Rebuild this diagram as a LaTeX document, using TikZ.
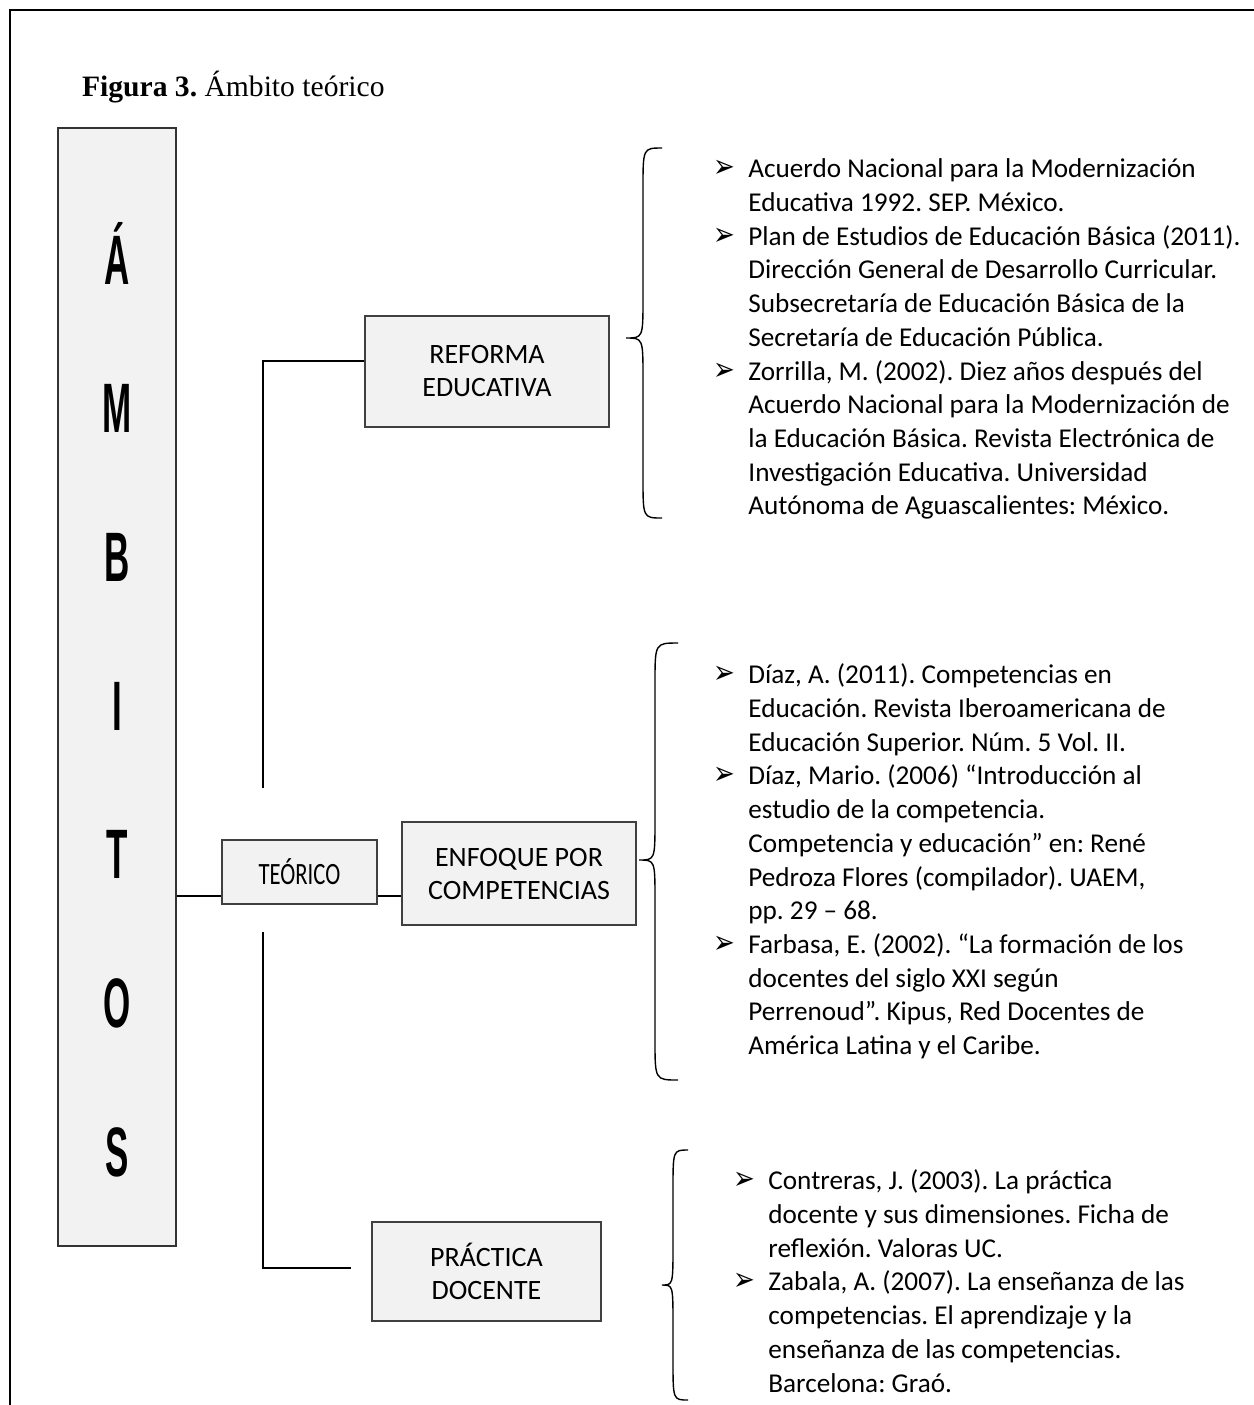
\documentclass[tikz,border=0pt]{standalone}
\usepackage{fontspec}
\usepackage{graphicx}
\setmainfont{Carlito}
\newfontfamily\titlefont{Liberation Serif}
\newfontfamily\tallfont{Liberation Sans}[FakeStretch=0.5]
\newfontfamily\narrowfont{Carlito}[FakeStretch=0.73]
\newfontfamily\dingfont{DejaVu Sans}
\definecolor{boxgray}{HTML}{F2F2F2}
\definecolor{edgegray}{HTML}{404040}
\newcommand{\refmark}{\llap{{\dingfont\fontsize{13}{13}\selectfont\scalebox{1}[1.25]{➢}}\hspace{6.5pt}}}
\frenchspacing

\begin{document}
\begin{tikzpicture}[x=0.5pt, y=-0.5pt,
    topic/.style={draw=edgegray, line width=0.75pt, fill=boxgray, align=center,
        inner sep=0pt, font=\fontsize{14}{16.5}\selectfont},
    link/.style={line width=1pt},
    letter/.style={font=\tallfont\bfseries\fontsize{35}{35}\selectfont, anchor=base},
    refs/.style={anchor=north west, align=left, inner sep=0pt,
        font=\fontsize{13.6}{16.85}\selectfont},
    curly/.style={line width=0.7pt}]

    \useasboundingbox (0,0) rectangle (1254,1405);
    \draw[line width=1.2pt] (10,1405) -- (10,10) -- (1254,10);

    \node[anchor=base west, font=\titlefont\fontsize{14.8}{17}\selectfont] (title) at (75,96)
        {\textbf{Figura 3.} Ámbito teórico};

    % left column
    \node[draw=black!80, line width=1pt, fill=boxgray, minimum width=59pt,
        minimum height=559pt, inner sep=0pt] (ambitos) at (117,687) {};
    \foreach \l [count=\i] in {Á,M,B,I,T,O,S}
        \node[letter] (amb-\i) at (117,{284+148.7*(\i-1)}) {\l};

    % topics
    \node[topic, minimum width=77.5pt, minimum height=32pt,
        font=\narrowfont\fontsize{15.5}{16}\selectfont] (teorico) at (299.5,872) {TEÓRICO};
    \node[topic, minimum width=122pt, minimum height=55.5pt] (reforma) at (487,371.5) {REFORMA\\EDUCATIVA};
    \node[topic, minimum width=117pt, minimum height=51.5pt] (enfoque) at (519,873.5) {ENFOQUE POR\\COMPETENCIAS};
    \node[topic, minimum width=114.5pt, minimum height=49.5pt] (practica) at (486.5,1271.5) {PRÁCTICA\\DOCENTE};

    % connectors
    \coordinate (tlink) at ([yshift=4.5pt]teorico.south west);
    \coordinate (rlink) at ([yshift=5.25pt]reforma.west);
    \coordinate (pend) at ([xshift=-10pt, yshift=1.75pt]practica.west);
    \coordinate (trunk-top) at (263,788);
    \coordinate (trunk-low) at (263,932);
    \draw[link] (tlink -| ambitos.east) -- (tlink);
    \draw[link] (tlink -| teorico.east) -- (tlink -| enfoque.west);
    \draw[link] (trunk-top) |- (rlink);
    \draw[link] (trunk-low) |- (pend);

    % braces
    \foreach \xe/\xv/\xt/\yt/\ym/\yb in {662/643/626/148/338/518, 678/655/639/643/860/1080, 688/673/662/1150/1285/1400}
        \draw[curly] (\xe,\yt) .. controls (\xv,\yt) .. (\xv,\yt+40) -- (\xv,\ym-40)
            .. controls (\xv,\ym) .. (\xt,\ym) .. controls (\xv,\ym) .. (\xv,\ym+40)
            -- (\xv,\yb-40) .. controls (\xv,\yb) .. (\xe,\yb);

    % references
    \node[refs] (refs-reforma) at (748,153) {\rule{0pt}{0.9em}\refmark Acuerdo Nacional para la Modernización\\
        Educativa 1992. SEP. México.\\
        \refmark Plan de Estudios de Educación Básica (2011).\\
        Dirección General de Desarrollo Curricular.\\
        Subsecretaría de Educación Básica de la\\
        Secretaría de Educación Pública.\\
        \refmark Zorrilla, M. (2002). Diez años después del\\
        Acuerdo Nacional para la Modernización de\\
        la Educación Básica. Revista Electrónica de\\
        Investigación Educativa. Universidad\\
        Autónoma de Aguascalientes: México.};
    \node[refs] (refs-enfoque) at (748,659) {\rule{0pt}{0.9em}\refmark Díaz, A. (2011). Competencias en\\
        Educación. Revista Iberoamericana de\\
        Educación Superior. Núm. 5 Vol. II.\\
        \refmark Díaz, Mario. (2006) “Introducción al\\
        estudio de la competencia.\\
        Competencia y educación” en: René\\
        Pedroza Flores (compilador). UAEM,\\
        pp. 29 – 68.\\
        \refmark Farbasa, E. (2002). “La formación de los\\
        docentes del siglo XXI según\\
        Perrenoud”. Kipus, Red Docentes de\\
        América Latina y el Caribe.};
    \node[refs] (refs-practica) at (768,1165) {\rule{0pt}{0.9em}\refmark Contreras, J. (2003). La práctica\\
        docente y sus dimensiones. Ficha de\\
        reflexión. Valoras UC.\\
        \refmark Zabala, A. (2007). La enseñanza de las\\
        competencias. El aprendizaje y la\\
        enseñanza de las competencias.\\
        Barcelona: Graó.};

\end{tikzpicture}
\end{document}
